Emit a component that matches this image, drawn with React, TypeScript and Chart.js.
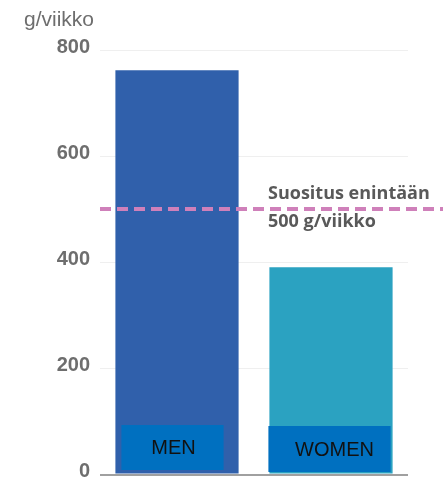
import React, { useEffect, useRef } from "react";
import { Chart, registerables } from "chart.js";

Chart.register(...registerables);

const categories = ["MEN", "WOMEN"];
const values = [762, 390];
const yTicks = [0, 200, 400, 600, 800];
const recommendation = 500;
const unitLabel = "g/viikko";
const recLine1 = "Suositus enintään";
const recLine2 = "500 g/viikko";
const barColors = ["#3060ab", "#2ba2c1"];

export default function App() {
  const ref = useRef<HTMLCanvasElement | null>(null);

  useEffect(() => {
    if (!ref.current) return;
    const overlay = {
      id: "overlay",
      afterDatasetsDraw(chart: any) {
        const ctx = chart.ctx;
        const y = chart.scales.y;
        const area = chart.chartArea;
        const yp = y.getPixelForValue(recommendation);
        const base = y.getPixelForValue(0);

        ctx.save();
        ctx.strokeStyle = "#cf80ba";
        ctx.lineWidth = 4;
        ctx.setLineDash([11, 6]);
        ctx.beginPath();
        ctx.moveTo(area.left, yp);
        ctx.lineTo(chart.width, yp);
        ctx.stroke();
        ctx.restore();

        ctx.save();
        ctx.fillStyle = "#595959";
        ctx.font = "bold 18px 'Open Sans'";
        ctx.textAlign = "left";
        ctx.textBaseline = "alphabetic";
        ctx.fillText(recLine1, 268, yp - 10);
        ctx.fillText(recLine2, 268, yp + 18);
        ctx.restore();

        const meta = chart.getDatasetMeta(0);
        const insets = [
          [6, 15, 49, 4],
          [-1, 2, 48, 2],
        ];
        meta.data.forEach((bar: any, i: number) => {
          const half = bar.width / 2;
          const left = bar.x - half + insets[i][0];
          const right = bar.x + half - insets[i][1];
          const top = base - insets[i][2];
          const bottom = base - insets[i][3];
          ctx.save();
          ctx.fillStyle = "#0070c0";
          ctx.fillRect(left, top, right - left, bottom - top);
          ctx.fillStyle = "#111111";
          ctx.font = "20px 'Liberation Sans'";
          ctx.textAlign = "center";
          ctx.textBaseline = "middle";
          ctx.fillText(categories[i], (left + right) / 2 + (i === 0 ? 1 : 5), (top + bottom) / 2 + 1);
          ctx.restore();
        });

        ctx.save();
        ctx.strokeStyle = "#a0a0a0";
        ctx.lineWidth = 2;
        ctx.beginPath();
        ctx.moveTo(area.left, base + 1);
        ctx.lineTo(area.right, base + 1);
        ctx.stroke();
        ctx.restore();

        ctx.save();
        ctx.fillStyle = "#6e6e6e";
        ctx.font = "21px 'Liberation Sans'";
        ctx.textAlign = "left";
        ctx.textBaseline = "alphabetic";
        ctx.fillText(unitLabel, 24, 26);
        ctx.restore();
      },
    };

    const chart = new Chart(ref.current, {
      type: "bar",
      data: {
        labels: categories,
        datasets: [
          {
            data: values,
            backgroundColor: barColors,
            borderWidth: 0,
            barPercentage: 0.8,
            categoryPercentage: 1,
          },
        ],
      },
      options: {
        responsive: false,
        animation: false,
        layout: { autoPadding: false, padding: { top: 50, right: 35, bottom: 4, left: 0 } },
        plugins: { legend: { display: false }, tooltip: { enabled: false } },
        scales: {
          x: { display: false },
          y: {
            min: 0,
            max: 800,
            afterBuildTicks(scale: any) {
              scale.ticks = yTicks.map((v) => ({ value: v }));
            },
            ticks: {
              padding: 10,
              labelOffset: -3,
              color: "#6e6e6e",
              font: { family: "'Liberation Sans'", size: 20, weight: "bold" },
            },
            grid: {
              drawTicks: false,
              color: (c: any) => (c.tick && c.tick.value === 0 ? "rgba(0,0,0,0)" : "#efefef"),
              lineWidth: 1,
            },
            border: { display: false },
            afterFit(scale: any) {
              scale.width = 100;
            },
          },
        },
      },
      plugins: [overlay],
    });
    return () => chart.destroy();
  }, []);

  return (
    <div style={{ position: "absolute", left: 0, top: 0, width: 443, height: 477, overflow: "hidden", background: "#fff" }}>
      <canvas ref={ref} width={443} height={496} style={{ width: 443, height: 496, display: "block" }} />
    </div>
  );
}
